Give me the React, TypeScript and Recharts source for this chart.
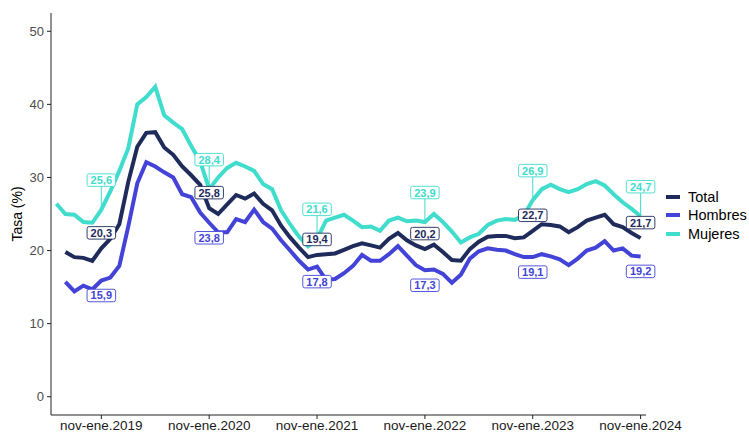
import { LineChart, Line, XAxis, YAxis } from 'recharts';

const FUENTE = '"Liberation Sans", Arial, Helvetica, sans-serif';

// trimestres móviles, de jun-ago.2018 a nov-ene.2024
const periodos = [
  'jun-ago.2018', 'jul-sep.2018', 'ago-oct.2018', 'sep-nov.2018', 'oct-dic.2018',
  'nov-ene.2019', 'dic-feb.2019', 'ene-mar.2019', 'feb-abr.2019', 'mar-may.2019', 'abr-jun.2019',
  'may-jul.2019', 'jun-ago.2019', 'jul-sep.2019', 'ago-oct.2019', 'sep-nov.2019', 'oct-dic.2019',
  'nov-ene.2020', 'dic-feb.2020', 'ene-mar.2020', 'feb-abr.2020', 'mar-may.2020', 'abr-jun.2020',
  'may-jul.2020', 'jun-ago.2020', 'jul-sep.2020', 'ago-oct.2020', 'sep-nov.2020', 'oct-dic.2020',
  'nov-ene.2021', 'dic-feb.2021', 'ene-mar.2021', 'feb-abr.2021', 'mar-may.2021', 'abr-jun.2021',
  'may-jul.2021', 'jun-ago.2021', 'jul-sep.2021', 'ago-oct.2021', 'sep-nov.2021', 'oct-dic.2021',
  'nov-ene.2022', 'dic-feb.2022', 'ene-mar.2022', 'feb-abr.2022', 'mar-may.2022', 'abr-jun.2022',
  'may-jul.2022', 'jun-ago.2022', 'jul-sep.2022', 'ago-oct.2022', 'sep-nov.2022', 'oct-dic.2022',
  'nov-ene.2023', 'dic-feb.2023', 'ene-mar.2023', 'feb-abr.2023', 'mar-may.2023', 'abr-jun.2023',
  'may-jul.2023', 'jun-ago.2023', 'jul-sep.2023', 'ago-oct.2023', 'sep-nov.2023', 'oct-dic.2023',
  'nov-ene.2024',
];

const total = [
  null, 19.8, 19.1, 19.0, 18.6, 20.3, 21.6, 23.6, 29.4, 34.2, 36.1,
  36.2, 34.1, 33.1, 31.5, 30.3, 29.0, 25.8, 25.0, 26.3, 27.6, 27.1,
  27.8, 26.4, 25.5, 23.4, 21.8, 20.4, 19.1, 19.4, 19.5, 19.6, 20.1,
  20.6, 21.0, 20.7, 20.4, 21.6, 22.4, 21.4, 20.7, 20.2, 20.8, 19.8,
  18.7, 18.6, 20.2, 21.2, 21.9, 22.0, 22.0, 21.7, 21.8, 22.7, 23.6,
  23.5, 23.3, 22.5, 23.2, 24.1, 24.5, 24.9, 23.6, 23.2, 22.4, 21.7,
];

const hombres = [
  null, 15.7, 14.4, 15.2, 14.7, 15.9, 16.3, 17.9, 23.3, 29.2, 32.1,
  31.5, 30.7, 30.0, 27.7, 27.3, 25.2, 23.8, 22.5, 22.5, 24.3, 23.9,
  25.6, 23.9, 23.0, 21.4, 20.0, 18.6, 17.4, 17.8, 16.0, 16.1, 16.9,
  17.9, 19.4, 18.6, 18.6, 19.5, 20.6, 19.3, 18.0, 17.3, 17.4, 16.8,
  15.6, 16.7, 18.9, 19.9, 20.3, 20.1, 20.0, 19.5, 19.1, 19.1, 19.5,
  19.2, 18.8, 18.0, 18.9, 20.0, 20.4, 21.3, 20.0, 20.3, 19.3, 19.2,
];

const mujeres = [
  26.4, 25.0, 24.9, 23.9, 23.8, 25.6, 28.1, 30.9, 34.0, 40.0, 41.0,
  42.4, 38.5, 37.5, 36.6, 34.3, 32.2, 28.4, 30.0, 31.3, 32.0, 31.5,
  30.9, 29.1, 28.4, 25.5, 23.6, 21.9, 20.6, 21.6, 24.1, 24.5, 24.9,
  24.1, 23.2, 23.3, 22.7, 24.1, 24.5, 24.0, 24.1, 23.9, 25.0, 23.9,
  22.6, 21.1, 21.8, 22.3, 23.5, 24.1, 24.3, 24.2, 24.8, 26.9, 28.4,
  29.0, 28.4, 28.0, 28.4, 29.1, 29.5, 28.9, 27.7, 26.6, 25.7, 24.7,
];

// puntos con etiqueta (nov-ene de cada año)
const ticksX = [5, 17, 29, 41, 53, 65];
const ticksY = [0, 10, 20, 30, 40, 50];

const series = [
  { key: 'total', nombre: 'Total', color: '#1e2b5b', dy: -15.5, segmento: false },
  { key: 'hombres', nombre: 'Hombres', color: '#4343d8', dy: 15, segmento: false },
  { key: 'mujeres', nombre: 'Mujeres', color: '#40dccc', dy: -29.5, segmento: true },
];

const datos = periodos.map((periodo, i) => ({
  i,
  periodo,
  total: total[i],
  hombres: hombres[i],
  mujeres: mujeres[i],
}));

const etiqueta = (s: typeof series[number]) => (props: any) => {
  const { cx, cy, index, payload } = props;
  const v = payload ? payload[s.key] : null;
  if (!ticksX.includes(index) || v == null || cx == null || cy == null) {
    return <g key={`e-${s.key}-${index}`} />;
  }
  const w = 28.5;
  const h = 12.5;
  const yc = cy + s.dy;
  return (
    <g key={`e-${s.key}-${index}`}>
      {s.segmento && (
        <line x1={cx} y1={yc + h / 2} x2={cx} y2={cy} stroke={s.color} strokeWidth={1} />
      )}
      <rect
        x={cx - w / 2}
        y={yc - h / 2}
        width={w}
        height={h}
        rx={2}
        fill="#fff"
        stroke={s.color}
        strokeWidth={0.9}
      />
      <text
        x={cx}
        y={yc}
        dy="0.36em"
        textAnchor="middle"
        fontSize={11}
        fontWeight="bold"
        fill={s.color}
      >
        {v.toFixed(1).replace('.', ',')}
      </text>
    </g>
  );
};

export default function App() {
  const capas = [series[2], series[0], series[1]];
  return (
    <div style={{ position: 'absolute', left: 0, top: 0, width: 749, height: 434, fontFamily: FUENTE, background: '#fff' }}>
      <LineChart width={749} height={434} data={datos} margin={{ top: 13, right: 103, bottom: 0, left: 0 }}>
        <XAxis
          dataKey="i"
          type="number"
          domain={[-0.6, 65.6]}
          ticks={ticksX}
          interval={0}
          tickFormatter={(v) => periodos[v]}
          height={19}
          tickSize={4}
          tickMargin={1}
          stroke="#222"
          tick={{ fill: '#1a1a1a', fontSize: 13.5 }}
        />
        <YAxis
          type="number"
          domain={[-2.5, 52.5]}
          ticks={ticksY}
          width={51}
          tickSize={4}
          tickMargin={3}
          stroke="#222"
          tick={{ fill: '#4d4d4d', fontSize: 13 }}
          label={{ value: 'Tasa (%)', angle: -90, position: 'center', dx: -8, fill: '#000', fontSize: 14 }}
        />
        {series.map((s) => (
          <Line
            key={s.key}
            dataKey={s.key}
            stroke={s.color}
            strokeWidth={4}
            dot={false}
            activeDot={false}
            isAnimationActive={false}
          />
        ))}
        {capas.map((s) => (
          <Line
            key={`etq-${s.key}`}
            dataKey={s.key}
            stroke="none"
            legendType="none"
            dot={etiqueta(s)}
            activeDot={false}
            isAnimationActive={false}
          />
        ))}
      </LineChart>
      <div style={{ position: 'absolute', left: 666, top: 188, fontSize: 14.5, color: '#000' }}>
        {series.map((s) => (
          <div key={s.key} style={{ display: 'flex', alignItems: 'center', height: 18.3 }}>
            <div style={{ width: 14, height: 4, background: s.color, marginRight: 8 }} />
            <span>{s.nombre}</span>
          </div>
        ))}
      </div>
    </div>
  );
}
